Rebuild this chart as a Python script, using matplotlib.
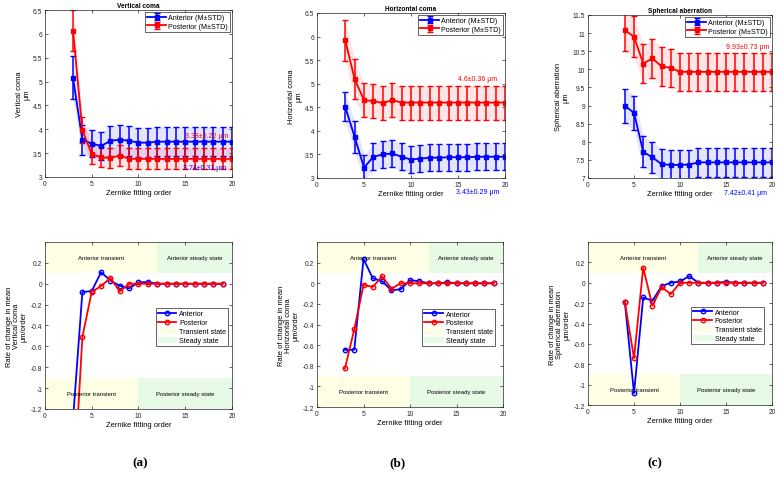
import matplotlib
matplotlib.use('Agg')
import matplotlib.pyplot as plt
from matplotlib.patches import Patch
import numpy as np

plt.rcParams['font.family'] = ['Liberation Sans', 'DejaVu Sans']
plt.rcParams['axes.unicode_minus'] = False

# 阶数
order_ac = list(range(3, 21))
order_sph = list(range(4, 21))
rate_ac = list(range(3, 20))
rate_sph = list(range(4, 20))

# 垂直彗差 (a)
vc_ant = [5.08, 3.78, 3.70, 3.65, 3.76, 3.78, 3.76, 3.72, 3.72, 3.74, 3.74, 3.74, 3.74, 3.74, 3.74, 3.74, 3.74, 3.74]
vc_ant_sd = [0.45, 0.31, 0.29, 0.30, 0.31, 0.31, 0.31, 0.31, 0.31, 0.31, 0.31, 0.31, 0.31, 0.31, 0.31, 0.31, 0.31, 0.31]
vc_post = [6.07, 3.98, 3.48, 3.41, 3.40, 3.45, 3.38, 3.38, 3.38, 3.38, 3.38, 3.38, 3.38, 3.38, 3.38, 3.38, 3.38, 3.38]
vc_post_sd = [0.42, 0.27, 0.20, 0.21, 0.21, 0.22, 0.22, 0.22, 0.22, 0.22, 0.22, 0.22, 0.22, 0.22, 0.22, 0.22, 0.22, 0.22]
vc_rate_ant = [-1.30, -0.08, -0.07, 0.11, 0.03, -0.02, -0.045, 0.013, 0.016, 0, 0, 0, 0, 0, 0, 0, 0]
vc_rate_post = [-2.09, -0.51, -0.077, -0.023, 0.055, -0.074, 0, 0, 0, 0, 0, 0, 0, 0, 0, 0, 0]

# 水平彗差 (b)
hc_ant = [4.51, 3.87, 3.22, 3.45, 3.50, 3.52, 3.45, 3.39, 3.41, 3.43, 3.43, 3.44, 3.44, 3.44, 3.45, 3.45, 3.45, 3.45]
hc_ant_sd = [0.31, 0.33, 0.27, 0.29, 0.29, 0.29, 0.29, 0.29, 0.29, 0.29, 0.29, 0.29, 0.29, 0.29, 0.29, 0.29, 0.29, 0.29]
hc_post = [5.92, 5.10, 4.65, 4.63, 4.59, 4.65, 4.60, 4.60, 4.60, 4.60, 4.60, 4.60, 4.60, 4.60, 4.60, 4.60, 4.60, 4.60]
hc_post_sd = [0.43, 0.43, 0.36, 0.36, 0.36, 0.36, 0.36, 0.36, 0.36, 0.36, 0.36, 0.36, 0.36, 0.36, 0.36, 0.36, 0.36, 0.36]
hc_rate_ant = [-0.645, -0.645, 0.235, 0.048, 0.02, -0.068, -0.058, 0.03, 0.02, 0, 0, 0.01, 0, 0, 0, 0, 0]
hc_rate_post = [-0.826, -0.448, -0.016, -0.035, 0.068, -0.052, 0, 0, 0, 0, 0, 0, 0, 0, 0, 0, 0]

# 球差 (c)
sa_ant = [8.99, 8.80, 7.72, 7.57, 7.38, 7.36, 7.36, 7.37, 7.43, 7.43, 7.43, 7.43, 7.43, 7.43, 7.43, 7.43, 7.43]
sa_ant_sd = [0.48, 0.47, 0.43, 0.43, 0.42, 0.41, 0.41, 0.41, 0.41, 0.41, 0.41, 0.41, 0.41, 0.41, 0.41, 0.41, 0.41]
sa_post = [11.08, 10.90, 10.16, 10.30, 10.08, 10.04, 9.93, 9.93, 9.93, 9.93, 9.93, 9.93, 9.93, 9.93, 9.93, 9.93, 9.93]
sa_post_sd = [0.58, 0.57, 0.53, 0.53, 0.53, 0.53, 0.52, 0.52, 0.52, 0.52, 0.52, 0.52, 0.52, 0.52, 0.52, 0.52, 0.52]
sa_rate_ant = [-0.186, -1.085, -0.144, -0.176, -0.033, 0.0, 0.013, 0.065, 0, 0, 0, 0.01, 0, 0, 0, 0]
sa_rate_post = [-0.186, -0.742, 0.147, -0.225, -0.042, -0.111, 0, 0, 0, 0, 0, 0, 0, 0, 0, 0]

names = ['Vertical coma', 'Horizontal coma', 'Spherical aberration']
ylims = [(3, 6.5), (3, 6.5), (7, 11.5)]
ant_txt = ['3.74±0.31 μm', '3.43±0.29 μm', '7.42±0.41 μm']
post_txt = ['3.38±0.22 μm', '4.6±0.36 μm', '9.93±0.73 μm']
ant_txt_y = [3.19, 2.72, 6.60]
post_txt_y = [3.87, 5.11, 10.62]
panel_tags = ['(a)', '(b)', '(c)']

top_pos = [[0.0578, 0.636, 0.2404, 0.3415], [0.4075, 0.634, 0.2416, 0.3374], [0.7558, 0.634, 0.2365, 0.3333]]
bot_pos = [[0.0578, 0.1616, 0.2404, 0.3415], [0.4075, 0.1656, 0.2391, 0.3374], [0.7558, 0.1697, 0.2365, 0.3333]]
leg_anchor = [(1.0, 0.625), (0.975, 0.618), (0.975, 0.626)]
tag_x = [140, 397, 655]

tops = [(order_ac, vc_ant, vc_ant_sd, vc_post, vc_post_sd),
        (order_ac, hc_ant, hc_ant_sd, hc_post, hc_post_sd),
        (order_sph, sa_ant, sa_ant_sd, sa_post, sa_post_sd)]
bots = [(rate_ac, vc_rate_ant, vc_rate_post),
        (rate_ac, hc_rate_ant, hc_rate_post),
        (rate_sph, sa_rate_ant, sa_rate_post)]

yellow = (1.0, 1.0, 0.9)
green = (0.9, 0.98, 0.9)

fig = plt.figure(figsize=(7.78, 4.89), dpi=100)

def style(ax):
    ax.tick_params(direction='in', top=True, right=True, length=2, width=0.5, labelsize=4.8, pad=2, colors='0.15')
    for s in ax.spines.values():
        s.set_linewidth(0.5)
        s.set_color('0.15')
    ax.set_xlim(0, 20)
    ax.set_xticks([0, 5, 10, 15, 20])
    ax.set_xlabel('Zernike fitting order', fontsize=5.4, labelpad=1.5)

for i in range(3):
    x, a, asd, p, psd = tops[i]
    x = np.array(x)
    a, asd, p, psd = map(np.array, (a, asd, p, psd))
    ax = fig.add_axes(top_pos[i])
    ax.fill_between(x, a - asd, a + asd, color='blue', alpha=0.1, lw=0)
    ax.fill_between(x, p - psd, p + psd, color='red', alpha=0.1, lw=0)
    ax.errorbar(x, a, yerr=asd, color='blue', marker='s', ms=2.6, lw=1.3, elinewidth=1.1, capsize=2.2, capthick=1.0,
                label='Anterior (M±STD)')
    ax.errorbar(x, p, yerr=psd, color='red', marker='s', ms=2.6, lw=1.3, elinewidth=1.1, capsize=2.2, capthick=1.0,
                label='Posterior (M±STD)')
    ax.set_ylim(*ylims[i])
    ax.set_yticks(np.arange(ylims[i][0], ylims[i][1] + 0.01, 0.5))
    ax.set_yticklabels(['%g' % v for v in np.arange(ylims[i][0], ylims[i][1] + 0.01, 0.5)])
    style(ax)
    ax.set_title(names[i], fontsize=4.7, fontweight='bold', pad=2)
    ax.set_ylabel(names[i] + '\nμm', fontsize=5.4, labelpad=2, linespacing=1.1)
    ax.text(15, post_txt_y[i], post_txt[i], color='red', fontsize=5, va='center')
    ax.text(14.8, ant_txt_y[i], ant_txt[i], color='blue', fontsize=5, va='center')
    leg = ax.legend(loc='upper right', fontsize=5.1, handlelength=2.6, borderpad=0.3, labelspacing=0.2,
                    handletextpad=0.3, borderaxespad=0.3, fancybox=False, edgecolor='0.15', framealpha=1)
    leg.get_frame().set_linewidth(0.5)

for i in range(3):
    x, a, p = bots[i]
    ax = fig.add_axes(bot_pos[i])
    ax.fill_between([0, 12], 0.1, 0.4, color=yellow, lw=0)
    ax.fill_between([12, 20], 0.1, 0.4, color=green, lw=0)
    ax.fill_between([0, 10], -1.2, -0.9, color=yellow, lw=0)
    ax.fill_between([10, 20], -1.2, -0.9, color=green, lw=0)
    ax.text(6, 0.25, 'Anterior transient', fontsize=4.3, ha='center', va='center')
    ax.text(16, 0.25, 'Anterior steady state', fontsize=4.3, ha='center', va='center')
    ax.text(5, -1.05, 'Posterior transient', fontsize=4.3, ha='center', va='center')
    ax.text(15, -1.05, 'Posterior steady state', fontsize=4.3, ha='center', va='center')
    ax.plot(x, a, '-o', color='blue', lw=1.3, ms=3.2, mfc='none', mew=1.0, label='Anterior')
    ax.plot(x, p, '-o', color='red', lw=1.3, ms=3.2, mfc='none', mew=1.0, label='Posterior')
    ax.set_ylim(-1.2, 0.4)
    yt = np.arange(-1.2, 0.21, 0.2)
    ax.set_yticks(yt)
    ax.set_yticklabels(['%g' % (round(v, 1) + 0.0) for v in yt])
    style(ax)
    ax.set_ylabel('Rate of change in mean\n' + names[i] + '\nμm/order', fontsize=5.4, labelpad=2, linespacing=1.1)
    handles, labels = ax.get_legend_handles_labels()
    handles += [Patch(color=yellow), Patch(color=green)]
    labels += ['Transient state', 'Steady state']
    leg = ax.legend(handles, labels, loc='upper right', bbox_to_anchor=leg_anchor[i], fontsize=5.1,
                    handlelength=2.6, borderpad=0.3, labelspacing=0.25, handletextpad=0.4,
                    fancybox=False, edgecolor='0.15', framealpha=1)
    leg.get_frame().set_linewidth(0.5)
    fig.text(tag_x[i] / 778, 1 - 463 / 489, panel_tags[i], fontsize=9.5, fontweight='bold',
             family=['Liberation Serif', 'DejaVu Serif'], ha='center', va='center')

plt.savefig('out.png', dpi=100)
